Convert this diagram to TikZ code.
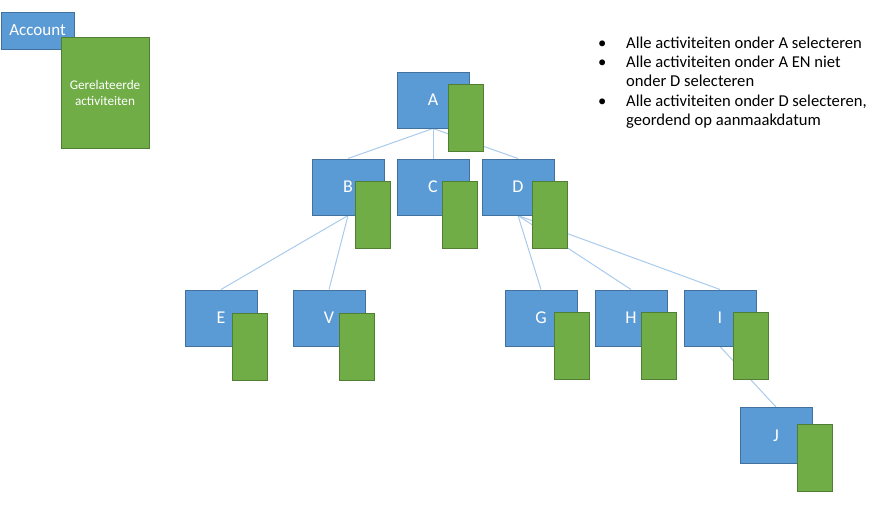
\documentclass[tikz,border=0pt]{standalone}
\usepackage{fontspec}
\setmainfont{Carlito}
\usetikzlibrary{backgrounds}

\definecolor{blokblauw}{HTML}{5B9BD5}
\definecolor{randblauw}{HTML}{41719C}
\definecolor{blokgroen}{HTML}{70AD47}
\definecolor{randgroen}{HTML}{507E32}
\definecolor{lijnblauw}{HTML}{A9CBEB}

\tikzset{
  acc/.style={draw=randblauw, fill=blokblauw, line width=1pt, minimum width=72pt,
    minimum height=56pt, inner sep=0pt, text=white, font=\fontsize{18}{21}\selectfont},
  activ/.style={draw=randgroen, fill=blokgroen, line width=1pt, minimum width=35pt,
    minimum height=67pt, inner sep=0pt},
  tak/.style={draw=lijnblauw, line width=1pt},
  lijst/.style={anchor=base west, inner sep=0pt, align=left,
    font=\fontsize{16.6}{19.4}\selectfont},
}

\begin{document}
\begin{tikzpicture}[x=1pt, y=-1pt]
    \useasboundingbox (0,0) rectangle (896,504);

    % Legenda
    \node[acc, minimum width=73pt, minimum height=37pt, font=\fontsize{17}{20}\selectfont] (account) at (37.5, 30.5) {Account};
    \node[activ, minimum width=88pt, minimum height=111pt, text=white, align=center,
      font=\fontsize{13.2}{16}\selectfont] (gerel) at (105, 92.5) {Gerelateerde\\activiteiten};

    % Boom van accounts
    \node[acc] (A) at (433, 100) {A};
    \node[activ] (Ag) at (465.5, 117.5) {};

    \node[acc] (B) at (348, 187) {B};
    \node[activ] (Bg) at (373, 214.5) {};
    \node[acc] (C) at (433, 187) {C};
    \node[activ] (Cg) at (459.5, 214.5) {};
    \node[acc] (D) at (518, 187) {D};
    \node[activ] (Dg) at (550, 214.5) {};

    \node[acc] (E) at (221, 318) {E};
    \node[activ] (Eg) at (249.5, 347) {};
    \node[acc] (V) at (329, 318) {V};
    \node[activ] (Vg) at (357, 347) {};
    \node[acc] (G) at (541, 318) {G};
    \node[activ] (Gg) at (571.5, 346) {};
    \node[acc] (H) at (631, 318) {H};
    \node[activ] (Hg) at (658.5, 346) {};
    \node[acc] (I) at (720, 318) {I};
    \node[activ] (Ig) at (750.5, 346) {};

    \node[acc] (J) at (776, 435.5) {J};
    \node[activ] (Jg) at (814.5, 457.5) {};

    % Verbindingen achter de blokken
    \begin{scope}[on background layer]
      \draw[tak] (A.south) -- (B.north);
      \draw[tak] (A.south) -- (C.north);
      \draw[tak] (A.south) -- (D.north);
      \draw[tak] (B.south) -- (E.north);
      \draw[tak] (B.south) -- (V.north);
      \draw[tak] (D.south) -- (G.north);
      \draw[tak] (D.south) -- (H.north);
      \draw[tak] (D.south) -- (I.north);
      \draw[tak] (I.south) -- (J.north);
    \end{scope}

    % Vragen (base = basislijn van de laatste regel)
    \node[lijst] (punt1) at (598, 48) {•};
    \node[lijst] (tekst1) at (626, 48) {Alle activiteiten onder A selecteren};
    \node[lijst] (punt2) at (598, 67.4) {•};
    \node[lijst] (tekst2) at (626, 86.8) {Alle activiteiten onder A EN niet\\onder D selecteren};
    \node[lijst] (punt3) at (598, 106.2) {•};
    \node[lijst] (tekst3) at (626, 125.6) {Alle activiteiten onder D selecteren,\\geordend op aanmaakdatum};
\end{tikzpicture}
\end{document}
